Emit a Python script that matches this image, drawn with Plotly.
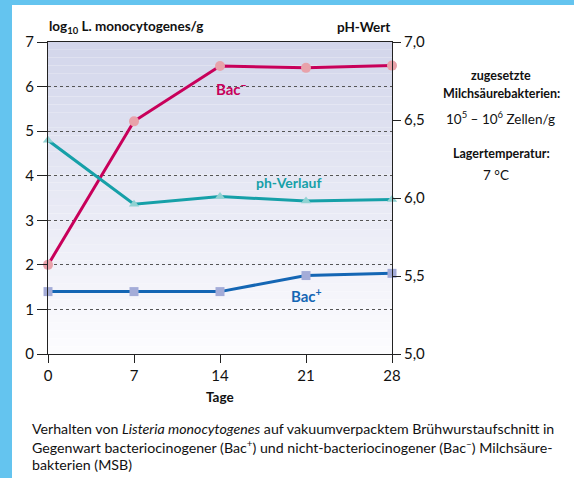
import plotly.graph_objects as go

days = [0, 7, 14, 21, 28]
bac_minus = [2.0, 5.22, 6.46, 6.42, 6.47]
bac_plus = [1.40, 1.40, 1.40, 1.76, 1.81]
ph_values = [6.37, 5.96, 6.01, 5.98, 5.99]
left_ticks = [0, 1, 2, 3, 4, 5, 6, 7]
right_ticks = [5.0, 5.5, 6.0, 6.5, 7.0]

W, H = 574, 478
L, R, T, B = 48, 392, 42, 354
FONT = "Lato, Roboto, sans-serif"


def px(x, y):
    return (x - L) / (R - L), (B - y) / (B - T)


fig = go.Figure()
fig.add_trace(go.Scatter(x=days, y=bac_minus, mode="lines+markers",
                         line=dict(color="#c8005a", width=3),
                         marker=dict(symbol="circle", size=10, color="#e8a2aa"),
                         cliponaxis=False, showlegend=False, hoverinfo="skip"))
fig.add_trace(go.Scatter(x=days, y=bac_plus, mode="lines+markers",
                         line=dict(color="#1466b4", width=3),
                         marker=dict(symbol="square", size=9, color="#a4acd8"),
                         cliponaxis=False, showlegend=False, hoverinfo="skip"))
fig.add_trace(go.Scatter(x=days, y=ph_values, mode="lines+markers", yaxis="y2",
                         line=dict(color="#16a0a8", width=3),
                         marker=dict(symbol="triangle-up", size=9, color="#90d2d2"),
                         cliponaxis=False, showlegend=False, hoverinfo="skip"))

shapes = []
n = 40
top = (211, 214, 235)
bot = (252, 252, 254)
for i in range(n):
    t = i / (n - 1)
    c = tuple(round(top[k] * (1 - t) + bot[k] * t) for k in range(3))
    shapes.append(dict(type="rect", xref="paper", yref="paper", x0=0, x1=1,
                       y0=1 - (i + 1) / n, y1=1 - i / n, line=dict(width=0),
                       fillcolor="rgb(%d,%d,%d)" % c, layer="below"))
x0, y0 = px(0, 0)
x1, _ = px(12, 0)
_, yb = px(0, H)
shapes.append(dict(type="rect", xref="paper", yref="paper", x0=x0, x1=x1, y0=yb, y1=y0,
                   line=dict(width=0), fillcolor="#64c4ef", layer="below"))
xr, _ = px(W, 0)
_, y5 = px(0, 5)
shapes.append(dict(type="rect", xref="paper", yref="paper", x0=x0, x1=xr, y0=y5, y1=y0,
                   line=dict(width=0), fillcolor="#64c4ef", layer="below"))

ann = []


def text(x, y, s, size=14, color="#111", bold=False, anchor="center"):
    ax, ay = px(x, y)
    if bold:
        s = "<b>" + s + "</b>"
    ann.append(dict(x=ax, y=ay, xref="paper", yref="paper", text=s, showarrow=False,
                    xanchor=anchor, yanchor="middle",
                    font=dict(family=FONT, size=size, color=color)))


text(47, 27, "log<sub>10</sub> L. monocytogenes/g", 13.5, bold=True, anchor="left")
text(392, 27, "pH-Wert", 13.5, bold=True, anchor="right")
text(232, 88, "Bac<sup>−</sup>", 15, color="#c8005a", bold=True)
text(288, 182, "ph-Verlauf", 14, color="#16a0a8", bold=True)
text(306, 295, "Bac<sup>+</sup>", 15, color="#1466b4", bold=True)
text(220, 397, "Tage", 13.5, bold=True)
text(501, 76, "zugesetzte", 12.5, bold=True)
text(502, 93, "Milchsäurebakterien:", 12.5, bold=True)
text(501, 118, "10<sup>5</sup> – 10<sup>6</sup> Zellen/g", 13.5)
text(502, 153, "Lagertemperatur:", 12.5, bold=True)
text(496, 175, "7 °C", 13.5)
text(30, 428, "Verhalten von <i>Listeria monocytogenes</i> auf vakuumverpacktem Brühwurstaufschnitt in", 14.2, anchor="left")
text(30, 446, "Gegenwart bacteriocinogener (Bac<sup>+</sup>) und nicht-bacteriocinogener (Bac<sup>–</sup>) Milchsäure-", 14.2, anchor="left")
text(30, 464, "bakterien (MSB)", 14.2, anchor="left")

fig.update_layout(
    width=W, height=H,
    margin=dict(l=L, r=W - R, t=T, b=H - B, pad=0),
    paper_bgcolor="white", plot_bgcolor="white",
    separators=",.",
    font=dict(family=FONT, size=14, color="#111"),
    shapes=shapes, annotations=ann,
    xaxis=dict(range=[0, 28], tickvals=days, ticks="outside", ticklen=8, tickcolor="#222",
               showline=True, linecolor="#222", linewidth=1, mirror=True,
               showgrid=False, zeroline=False, tickfont=dict(size=15)),
    yaxis=dict(range=[0, 7], tickvals=left_ticks, ticks="outside", ticklen=10, tickcolor="#222",
               showline=True, linecolor="#222", linewidth=1,
               showgrid=True, gridcolor="#555", griddash="dot", gridwidth=1,
               zeroline=False, tickfont=dict(size=15)),
    yaxis2=dict(range=[5, 7], tickvals=right_ticks, tickformat=".1f", overlaying="y", side="right",
                ticks="outside", ticklen=8, tickcolor="#222",
                showline=True, linecolor="#222", linewidth=1,
                showgrid=False, zeroline=False, tickfont=dict(size=15)),
)

fig.write_html("out.html", config={"displayModeBar": False},
               post_script="document.body.style.margin='0';")
